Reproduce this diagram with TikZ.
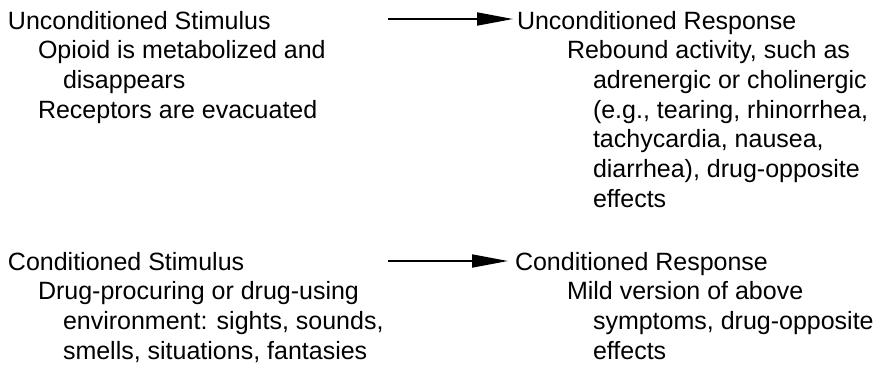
\documentclass[tikz,border=0pt]{standalone}
\usepackage{fontspec}
\setmainfont{Liberation Sans}
\usetikzlibrary{arrows.meta}
\tikzset{
  txt/.style={anchor=base west, inner sep=0pt, outer sep=0pt, font=\fontsize{25}{30}\selectfont},
  arr/.style={line width=1.8pt, -{Triangle[length=36pt,width=13pt]}},
}
\begin{document}
\begin{tikzpicture}[x=1pt,y=1pt]
\useasboundingbox (0,0) rectangle (884,-365);
% left top
\node[txt] (us)  at (8,-29)     {Unconditioned Stimulus};
\node[txt] (us1) at (38,-58.7)  {Opioid is metabolized and};
\node[txt] (us2) at (63,-88.4)  {disappears};
\node[txt] (us3) at (38,-118.1) {Receptors are evacuated};
% right top
\node[txt] (ur)  at (517,-29)    {Unconditioned Response};
\node[txt] (ur1) at (567,-58.7)  {Rebound activity, such as};
\node[txt] (ur2) at (593,-88.4)  {adrenergic or cholinergic};
\node[txt] (ur3) at (593,-118.1) {(e.g., tearing, rhinorrhea,};
\node[txt] (ur4) at (593,-147.8) {tachycardia, nausea,};
\node[txt] (ur5) at (593,-177.5) {diarrhea), drug-opposite};
\node[txt] (ur6) at (593,-207.2) {effects};
% left bottom
\node[txt] (cs)  at (8,-270)     {Conditioned Stimulus};
\node[txt] (cs1) at (38,-299.7)  {Drug-procuring or drug-using};
\node[txt] (cs2) at (63,-329.4)  {environment: sights, sounds,};
\node[txt] (cs3) at (63,-359.1)  {smells, situations, fantasies};
% right bottom
\node[txt] (cr)  at (515,-270)    {Conditioned Response};
\node[txt] (cr1) at (567,-299.7)  {Mild version of above};
\node[txt] (cr2) at (593,-329.4)  {symptoms, drug-opposite};
\node[txt] (cr3) at (593,-359.1)  {effects};
% arrows
\coordinate (a1) at (388,-19);
\coordinate (a2) at (388,-261);
\draw[arr, shorten >=4pt] (a1) -- (a1 -| ur.west);
\draw[arr, shorten >=7pt] (a2) -- (a2 -| cr.west);
\end{tikzpicture}
\end{document}
